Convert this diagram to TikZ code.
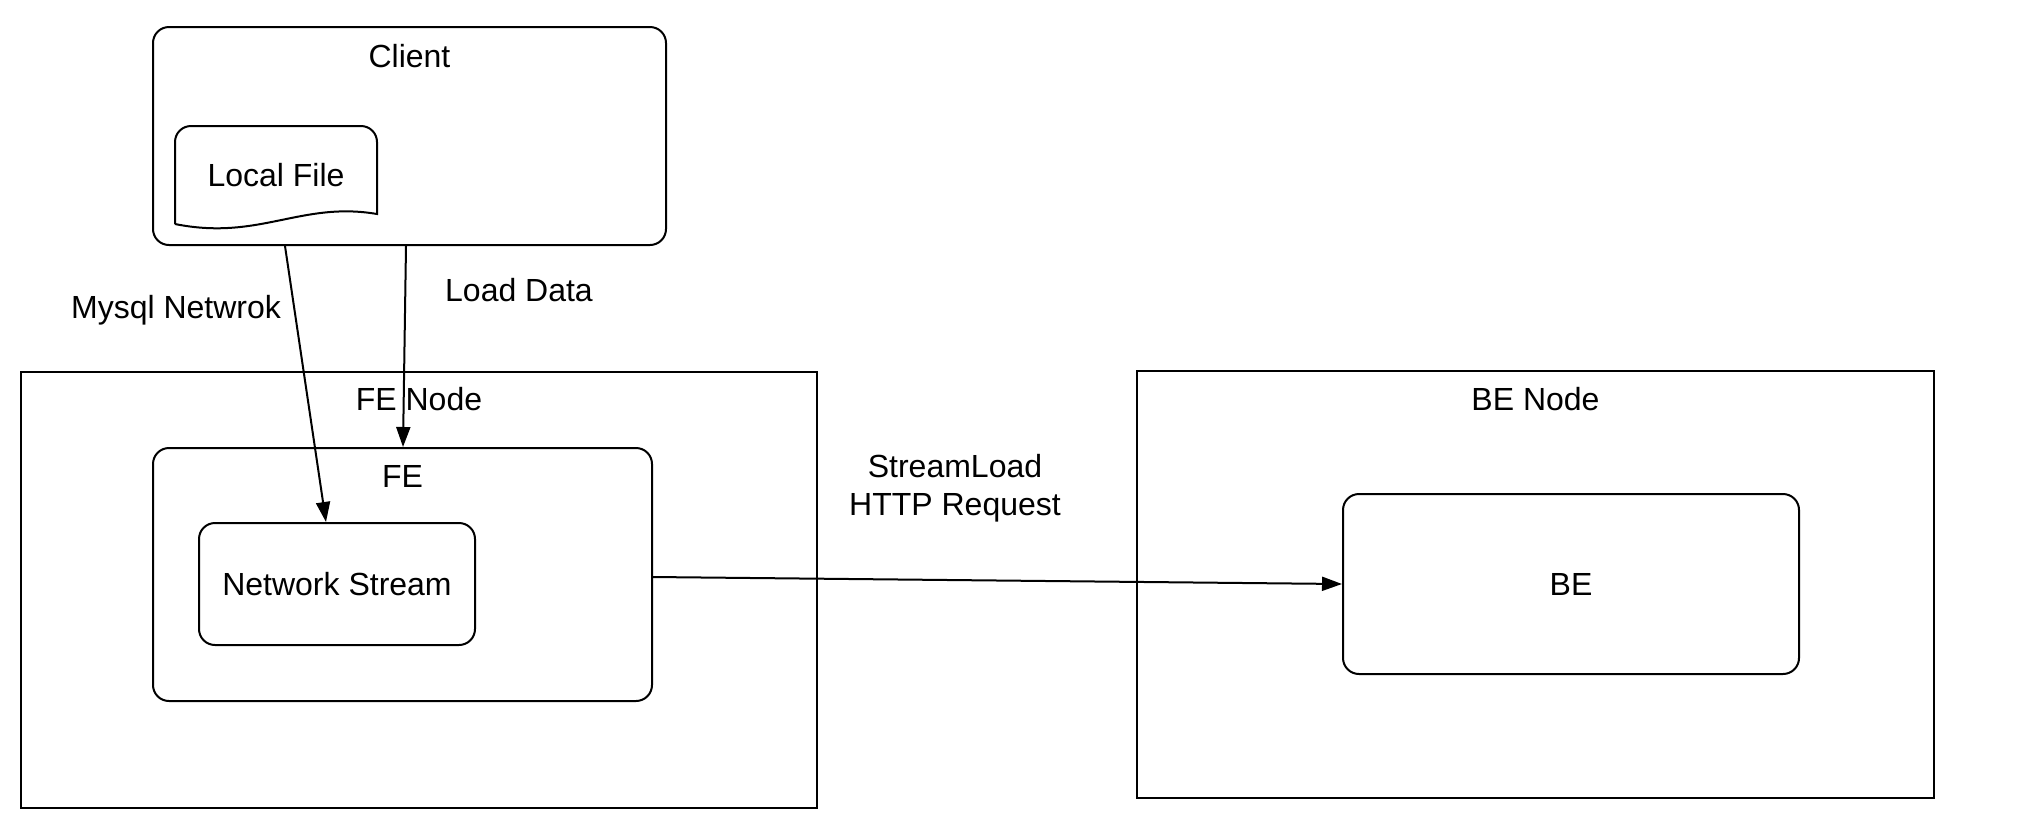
\documentclass[tikz,border=0pt]{standalone}
\usepackage{fontspec}
\setmainfont{Liberation Sans}
\usetikzlibrary{arrows.meta,calc}

\begin{document}
\begin{tikzpicture}
		[x=0.5pt,y=-0.5pt,line width=1pt,
		every node/.style={font=\fontsize{16}{19}\selectfont},
		box/.style={draw,rectangle,inner sep=0pt},
		rbox/.style={box,rounded corners=8pt},
		arr/.style={-{Triangle[length=10pt,width=7pt]}}]
		\useasboundingbox (0,0) rectangle (2028,820);
		% boxes
		\node[rbox,minimum width=256.5pt,minimum height=109pt] (client) at (409.5,136) {};
		\node (client_l) at ([yshift=-15pt]client.north) {Client};
		\node[inner sep=0pt,minimum width=100pt,minimum height=48pt] (file) at (276,175) {Local File};
		\draw (file.south west) [rounded corners=8pt] -- (file.north west) -- (file.north east) [sharp corners]
			-- ($(file.south east)+(0,-10)$) .. controls ($(file.south east)+(-76,-23)$) and ($(file.south west)+(84,17)$) .. (file.south west);
		\node[box,minimum width=398pt,minimum height=218pt] (fenode) at (419,589.5) {};
		\node (fenode_l) at ([yshift=-14.5pt]fenode.north) {FE Node};
		\node[rbox,minimum width=249.5pt,minimum height=126.5pt] (fe) at (402.5,574.5) {};
		\node (fe_l) at ([yshift=-14.5pt]fe.north) {FE};
		\node[rbox,minimum width=138pt,minimum height=61pt] (stream) at (337,584) {Network Stream};
		\node[box,minimum width=398.5pt,minimum height=213.5pt] (benode) at (1535.5,584.5) {};
		\node (benode_l) at ([yshift=-14.5pt]benode.north) {BE Node};
		\node[rbox,minimum width=228pt,minimum height=90pt] (be) at (1571,584) {BE};
		% labels
		\node (mysql) at (176,310) {Mysql Netwrok};
		\node (load) at (519,290) {Load Data};
		\node[align=center] (http) at (955,488) {StreamLoad\\HTTP Request};
		% connectors
		\draw[arr] ([xshift=66.5pt]client.south west) -- ([xshift=64pt]stream.north west);
		\draw[arr] ([xshift=127pt]client.south west) -- ([xshift=125.5pt]fe.north west);
		\draw[arr] ([yshift=-1.25pt]fe.east) -- (be.west);
\end{tikzpicture}
\end{document}
